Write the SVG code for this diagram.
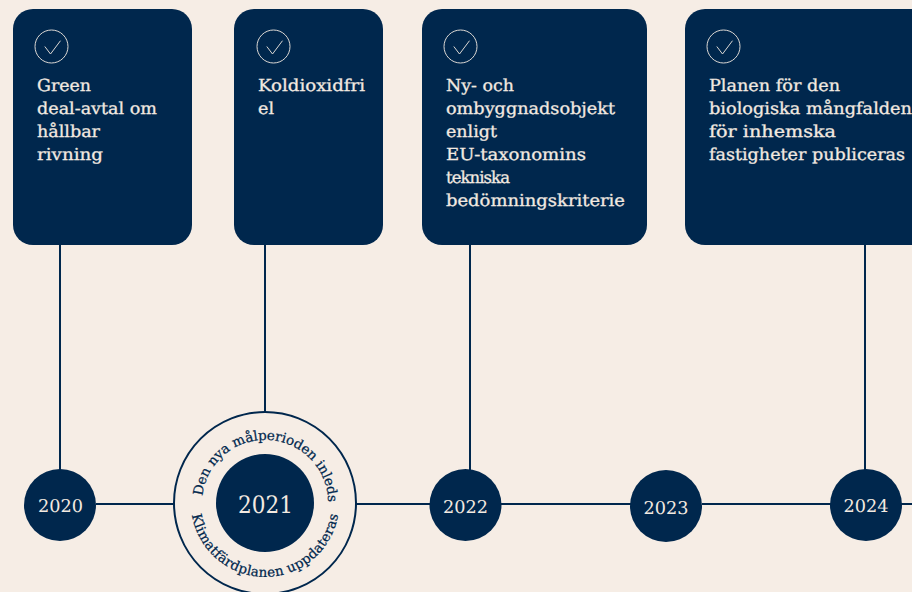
<svg xmlns="http://www.w3.org/2000/svg" width="912" height="592" viewBox="0 0 912 592">
<style>
.card{fill:#00274d}
.ln{stroke:#00274d;stroke-width:2;fill:none}
text{font-family:"DejaVu Serif","Liberation Serif",serif;text-rendering:geometricPrecision}
.t{font-size:16.5px;fill:#f3eae1;stroke:#f3eae1;stroke-width:.3}
.y{font-size:17.5px;fill:#f3eae1;text-anchor:middle}
.c{font-size:13.500px;fill:#00274d;stroke:#00274d;stroke-width:.25}
.ic{fill:none;stroke:#dcd8d4;stroke-width:1}
.yc{fill:#00274d}
</style>
<defs>
<g id="chk"><circle class="ic" r="16.5"/><path class="ic" d="M-6.700 0L-1 7.500L9 -5.800"/></g>
<path id="arcT" d="M202.500 496A63 63 0 0 1 328 499"/>
<path id="arcB" d="M192 515A74 74 0 0 0 338 515"/>
</defs>
<rect width="912" height="592" fill="#f6ede5"/>
<g id="connectors">
<path class="ln" d="M60 245V470M265 245V413M470 245V470M865 245V470M96 504H175M355 504H430M500 504H631M702 504H831M901 504H912"/>
</g>
<g id="card-2020"><rect class="card" x="13" y="9" width="179" height="236" rx="20"/><use href="#chk" x="51.500" y="46.500"/>
<text class="t" x="37" y="91" textLength="54" lengthAdjust="spacingAndGlyphs">Green</text>
<text class="t" x="37" y="114" textLength="120" lengthAdjust="spacingAndGlyphs">deal-avtal om</text>
<text class="t" x="37" y="137" textLength="63" lengthAdjust="spacingAndGlyphs">hållbar</text>
<text class="t" x="37" y="160" textLength="66" lengthAdjust="spacingAndGlyphs">rivning</text></g>
<g id="card-2021"><rect class="card" x="234" y="9" width="149" height="236" rx="20"/><use href="#chk" x="273.500" y="46.500"/>
<text class="t" x="258" y="91" textLength="107" lengthAdjust="spacingAndGlyphs">Koldioxidfri</text>
<text class="t" x="258" y="114" textLength="16" lengthAdjust="spacingAndGlyphs">el</text></g>
<g id="card-2022"><rect class="card" x="422" y="9" width="225" height="236" rx="20"/><use href="#chk" x="460.500" y="46.500"/>
<text class="t" x="446" y="91" textLength="68" lengthAdjust="spacingAndGlyphs">Ny- och</text>
<text class="t" x="446" y="114" textLength="169" lengthAdjust="spacingAndGlyphs">ombyggnadsobjekt</text>
<text class="t" x="446" y="137" textLength="51" lengthAdjust="spacingAndGlyphs">enligt</text>
<text class="t" x="446" y="160" textLength="140" lengthAdjust="spacingAndGlyphs">EU-taxonomins</text>
<text class="t" x="446" y="183" textLength="64" lengthAdjust="spacing">tekniska</text>
<text class="t" x="446" y="206" textLength="179" lengthAdjust="spacingAndGlyphs">bedömningskriterie</text></g>
<g id="card-2024"><rect class="card" x="685" y="9" width="250" height="236" rx="20"/><use href="#chk" x="723.500" y="46.500"/>
<text class="t" x="709" y="91" textLength="131" lengthAdjust="spacingAndGlyphs">Planen för den</text>
<text class="t" x="709" y="114" textLength="203" lengthAdjust="spacingAndGlyphs">biologiska mångfalden</text>
<text class="t" x="709" y="137" textLength="127" lengthAdjust="spacingAndGlyphs">för inhemska</text>
<text class="t" x="709" y="160" textLength="196" lengthAdjust="spacingAndGlyphs">fastigheter publiceras</text></g>
<g id="year-2020"><circle class="yc" cx="60" cy="505" r="36"/><text class="y" x="60.500" y="512" textLength="45" lengthAdjust="spacingAndGlyphs">2020</text></g>
<g id="year-2021"><circle class="ln" cx="265" cy="503" r="91"/><circle class="yc" cx="265" cy="503" r="49"/>
<text class="y" x="265.500" y="513" style="font-size:24px" textLength="55" lengthAdjust="spacingAndGlyphs">2021</text>
<text class="c"><textPath href="#arcT" textLength="190" lengthAdjust="spacing">Den nya målperioden inleds</textPath></text>
<text class="c"><textPath href="#arcB" textLength="208" lengthAdjust="spacing">Klimatfärdplanen uppdateras</textPath></text></g>
<g id="year-2022"><circle class="yc" cx="465.500" cy="505" r="36"/><text class="y" x="465.500" y="512.500" textLength="45" lengthAdjust="spacingAndGlyphs">2022</text></g>
<g id="year-2023"><circle class="yc" cx="666" cy="506" r="36"/><text class="y" x="666" y="513.500" textLength="45" lengthAdjust="spacingAndGlyphs">2023</text></g>
<g id="year-2024"><circle class="yc" cx="866" cy="505" r="36"/><text class="y" x="866" y="512" textLength="45" lengthAdjust="spacingAndGlyphs">2024</text></g>
</svg>
